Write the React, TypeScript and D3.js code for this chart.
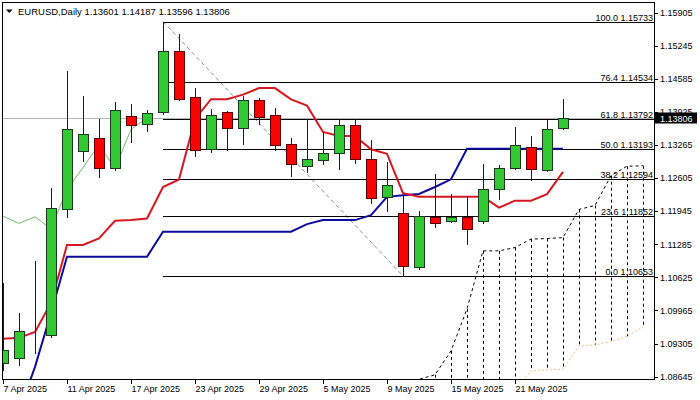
import React from 'react';
import * as d3 from 'd3';

// ---- data (EURUSD Daily) ----
const tickBars = [0, 4, 8, 12, 16, 20, 24, 28, 32];
const tickLabels = ['7 Apr 2025', '11 Apr 2025', '17 Apr 2025', '23 Apr 2025', '29 Apr 2025', '5 May 2025', '9 May 2025', '15 May 2025', '21 May 2025'];

const opens = [1.08926, 1.09026, 1.09488, 1.09472, 1.11982, 1.13157, 1.13402, 1.12818, 1.13854, 1.13695, 1.13934, 1.15135, 1.14219, 1.13183, 1.13920, 1.13607, 1.14159, 1.13874, 1.13283, 1.12850, 1.12978, 1.13117, 1.13675, 1.12998, 1.12221, 1.11914, 1.10826, 1.11834, 1.11749, 1.11834, 1.11749, 1.12380, 1.12818, 1.13223, 1.12759, 1.13601];
const highs = [1.10520, 1.09910, 1.10958, 1.12400, 1.14743, 1.14239, 1.13794, 1.14125, 1.14079, 1.13960, 1.15733, 1.15474, 1.14412, 1.13980, 1.13940, 1.14239, 1.14213, 1.14006, 1.13416, 1.13794, 1.13528, 1.13794, 1.13781, 1.13376, 1.12930, 1.12267, 1.11954, 1.12685, 1.12286, 1.12221, 1.12884, 1.12864, 1.13627, 1.13442, 1.13775, 1.14187];
const lows = [1.08781, 1.08880, 1.09125, 1.09432, 1.11834, 1.12950, 1.12631, 1.12765, 1.13328, 1.13547, 1.13894, 1.14160, 1.13043, 1.13129, 1.13163, 1.13283, 1.13695, 1.13163, 1.12651, 1.12731, 1.12898, 1.12798, 1.12910, 1.12113, 1.11958, 1.10653, 1.10802, 1.11635, 1.11735, 1.11290, 1.11703, 1.12181, 1.12779, 1.12565, 1.12750, 1.13596];
const closes = [1.09179, 1.09557, 1.09498, 1.12002, 1.13581, 1.13496, 1.12818, 1.13974, 1.13675, 1.13914, 1.15135, 1.14185, 1.13177, 1.13874, 1.13607, 1.14159, 1.13826, 1.13269, 1.12898, 1.12998, 1.13117, 1.13675, 1.12998, 1.12213, 1.12460, 1.10858, 1.11848, 1.11703, 1.11834, 1.11595, 1.12380, 1.12818, 1.13277, 1.12798, 1.13581, 1.13806];

const tenkan = [1.09398, 1.09418, 1.09537, 1.10115, 1.11271, 1.11271, 1.11404, 1.11755, 1.11769, 1.11802, 1.12429, 1.12579, 1.13784, 1.14182, 1.14182, 1.14273, 1.14404, 1.14404, 1.14179, 1.14053, 1.13528, 1.13448, 1.13448, 1.13183, 1.13093, 1.12306, 1.12233, 1.12233, 1.12233, 1.12233, 1.12233, 1.12018, 1.12157, 1.12157, 1.12286, 1.12731];
const kijun = [1.07765, 1.07944, 1.08840, 1.09916, 1.11037, 1.11037, 1.11037, 1.11037, 1.11037, 1.11037, 1.11536, 1.11536, 1.11536, 1.11536, 1.11536, 1.11536, 1.11536, 1.11536, 1.11536, 1.11689, 1.11769, 1.11769, 1.11769, 1.11868, 1.12233, 1.12267, 1.12290, 1.12429, 1.12583, 1.13193, 1.13193, 1.13193, 1.13193, 1.13193, 1.13193, 1.13193];
const chikou = [1.11848, 1.11703, 1.11834, 1.11595, 1.12380, 1.12818, 1.13277, 1.12798, 1.13581, 1.13806];

const spanStart = 24;
const spanA = [1.08300, 1.08450, 1.08591, 1.08681, 1.09159, 1.09996, 1.11155, 1.11155, 1.11221, 1.11390, 1.11400, 1.11420, 1.11982, 1.12061, 1.12655, 1.12844, 1.12854];
const spanB = [1.08382, 1.08382, 1.08382, 1.08382, 1.08382, 1.08382, 1.08382, 1.08382, 1.08382, 1.08761, 1.08781, 1.08791, 1.09259, 1.09278, 1.09344, 1.09448, 1.09637];

const fibLevels = [100.0, 76.4, 61.8, 50.0, 38.2, 23.6, 0.0];
const fibPrices = [1.15733, 1.14534, 1.13792, 1.13193, 1.12594, 1.11852, 1.10653];
const fibStartBar = 10;
const fibEndBar = 25;

const priceTicks = [1.15905, 1.15245, 1.14585, 1.13925, 1.13265, 1.12605, 1.11945, 1.11285, 1.10625, 1.09965, 1.09305, 1.08645];

const symbolTitle = 'EURUSD,Daily';

const FONT = "'Liberation Sans', Arial, sans-serif";

export default function App() {
  const W = 700, H = 400;
  const L = 3, R = 654, T = 3, B = 379;
  const x = d3.scaleLinear().domain([0, 40]).range([3, 643]);
  const y = d3.scaleLinear().domain([1.10653, 1.15733]).range([276, 21.5]);
  const cr = (v: number) => Math.round(v) + 0.5;

  const last = closes.length - 1;
  const title = `${symbolTitle} ${opens[last].toFixed(5)} ${highs[last].toFixed(5)} ${lows[last].toFixed(5)} ${closes[last].toFixed(5)}`;

  const lineIdx = d3.line<number>().x((_, i) => x(i)).y(d => y(d));
  const lineSpan = d3.line<number>().x((_, i) => x(spanStart + i)).y(d => y(d));

  const bidY = cr(y(closes[last]));

  return (
    <svg width={W} height={H} style={{ position: 'absolute', left: 0, top: 0, background: '#fff' }} fontFamily={FONT}>
      <defs>
        <clipPath id="plot">
          <rect x={L} y={T} width={R - L} height={B - T} />
        </clipPath>
      </defs>
      <rect x={0} y={0} width={W} height={H} fill="#fff" />

      <g clipPath="url(#plot)">
        {/* bid line */}
        <line x1={L} x2={R} y1={bidY} y2={bidY} stroke="#b4b4b4" strokeWidth={1} />

        {/* fibonacci */}
        <line x1={x(fibStartBar)} y1={y(fibPrices[0])} x2={x(fibEndBar)} y2={y(fibPrices[fibPrices.length - 1])}
          stroke="#8c8c8c" strokeWidth={1} strokeDasharray="4,3" />
        {fibPrices.map((p, k) => (
          <line key={'f' + k} x1={x(fibStartBar)} x2={R} y1={cr(y(p))} y2={cr(y(p))} stroke="#000" strokeWidth={1} />
        ))}

        {/* cloud hatch */}
        {spanA.map((a, k) => (
          <line key={'h' + k} x1={cr(x(spanStart + k))} x2={cr(x(spanStart + k))} y1={y(a)} y2={y(spanB[k])}
            stroke="#000" strokeWidth={1} strokeDasharray="3,3" />
        ))}
        <path d={lineSpan(spanA) || ''} fill="none" stroke="#000" strokeWidth={1} strokeDasharray="3,3" />
        <path d={lineSpan(spanB) || ''} fill="none" stroke="#f2c28c" strokeWidth={1} strokeDasharray="2,2" />

        {/* chikou, kijun, tenkan */}
        <path d={lineIdx(chikou) || ''} fill="none" stroke="#6cbf6c" strokeWidth={1} />
        <path d={lineIdx(kijun) || ''} fill="none" stroke="#0c0c9c" strokeWidth={2} />
        <path d={lineIdx(tenkan) || ''} fill="none" stroke="#d81820" strokeWidth={2} />

        {/* candles */}
        {closes.map((c, i) => {
          const o = opens[i];
          const cx = Math.round(x(i));
          const up = c >= o;
          const yt = Math.round(y(Math.max(o, c)));
          const yb = Math.round(y(Math.min(o, c)));
          return (
            <g key={'c' + i}>
              <line x1={cx + 0.5} x2={cx + 0.5} y1={Math.round(y(highs[i]))} y2={Math.round(y(lows[i])) + 1} stroke="#1e1e1e" strokeWidth={1} />
              <rect x={cx - 4.5} y={yt + 0.5} width={10} height={Math.max(0, yb - yt)}
                fill={up ? '#32c832' : '#ff0000'} stroke={up ? '#1e3a1e' : '#5a0000'} strokeWidth={1} />
            </g>
          );
        })}
      </g>

      {/* fib labels */}
      {fibPrices.map((p, k) => (
        <text key={'fl' + k} x={R - 1} y={cr(y(p)) - 2} fontSize={9} textAnchor="end" fill="#000">
          {fibLevels[k].toFixed(1)} {p.toFixed(5)}
        </text>
      ))}

      {/* frame */}
      <rect x={2.5} y={2.5} width={652} height={377} fill="none" stroke="#000" strokeWidth={1} />

      {/* price axis */}
      {priceTicks.map((p, k) => (
        <g key={'pt' + k}>
          <line x1={655} x2={658} y1={cr(y(p))} y2={cr(y(p))} stroke="#000" />
          <text x={660} y={y(p) + 3.2} fontSize={9} fill="#000">{p.toFixed(5)}</text>
        </g>
      ))}
      <rect x={655} y={bidY - 6} width={42} height={11} fill="#000" />
      <text x={660} y={bidY + 3.2} fontSize={9} fill="#fff">{closes[last].toFixed(5)}</text>

      {/* time axis */}
      {tickBars.map((b, k) => (
        <g key={'tt' + k}>
          <line x1={cr(x(b))} x2={cr(x(b))} y1={379.5} y2={384} stroke="#000" />
          <text x={x(b) + 0.5} y={392} fontSize={9} fill="#000">{tickLabels[k]}</text>
        </g>
      ))}

      {/* title */}
      <polygon points="6,9.5 12.5,9.5 9.25,13" fill="#000" />
      <text x={18} y={14.5} fontSize={9.5} fill="#000">{title}</text>
    </svg>
  );
}
